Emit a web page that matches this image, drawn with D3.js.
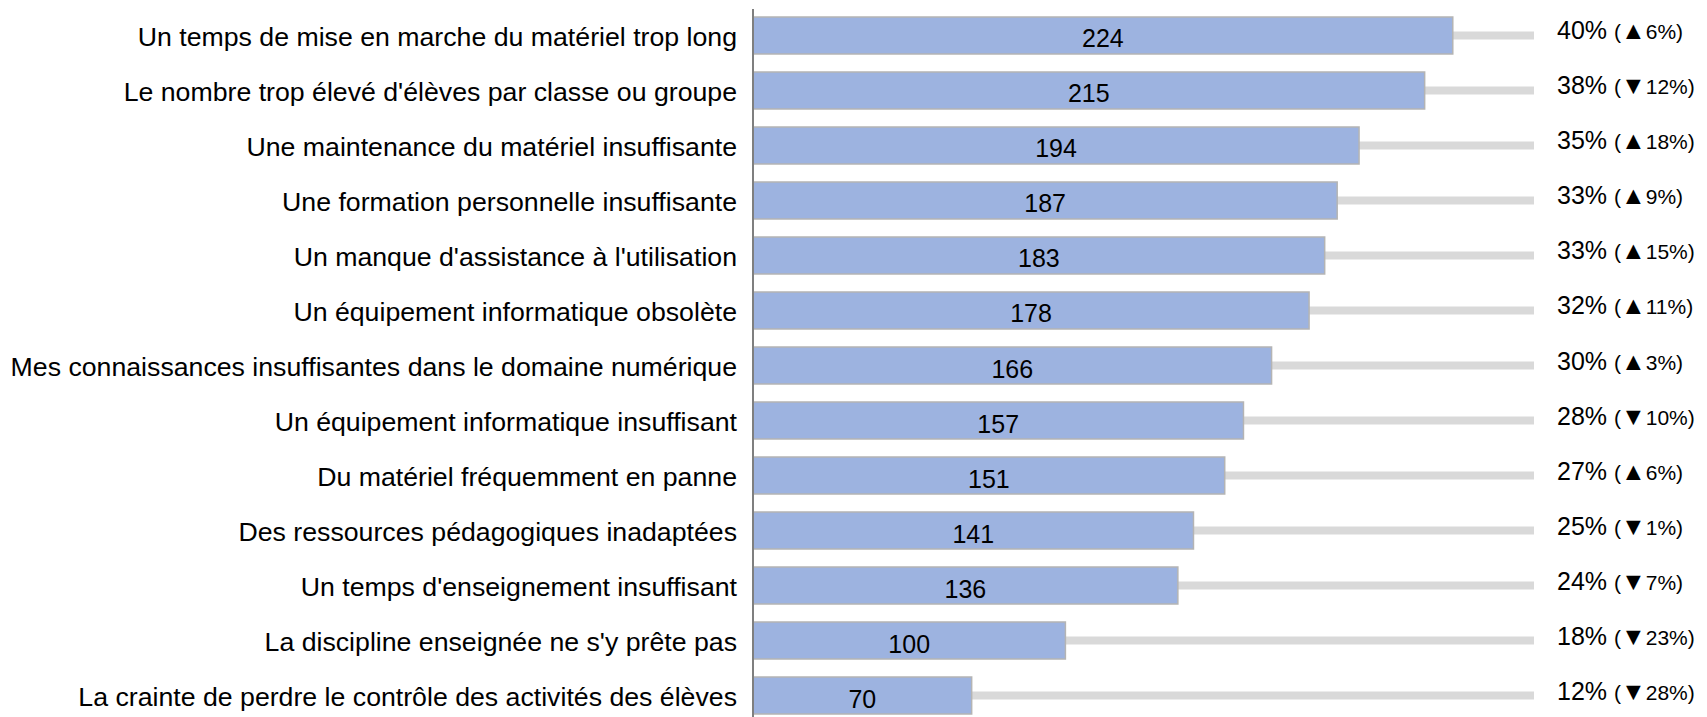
<!DOCTYPE html>
<html>
<head>
<meta charset="utf-8">
<script src="https://cdn.jsdelivr.net/npm/d3@7"></script>
<style>
  html, body { margin: 0; padding: 0; background: #fff; }
  svg { display: block; font-family: "Liberation Sans", Arial, sans-serif; }
</style>
</head>
<body>
<svg id="chart" width="1707" height="717"></svg>
<script>
const categories = [
  "Un temps de mise en marche du matériel trop long",
  "Le nombre trop élevé d'élèves par classe ou groupe",
  "Une maintenance du matériel insuffisante",
  "Une formation personnelle insuffisante",
  "Un manque d'assistance à l'utilisation",
  "Un équipement informatique obsolète",
  "Mes connaissances insuffisantes dans le domaine numérique",
  "Un équipement informatique insuffisant",
  "Du matériel fréquemment en panne",
  "Des ressources pédagogiques inadaptées",
  "Un temps d'enseignement insuffisant",
  "La discipline enseignée ne s'y prête pas",
  "La crainte de perdre le contrôle des activités des élèves"
];
const counts = [224, 215, 194, 187, 183, 178, 166, 157, 151, 141, 136, 100, 70];
const percents = ["40%", "38%", "35%", "33%", "33%", "32%", "30%", "28%", "27%", "25%", "24%", "18%", "12%"];
const trendArrows = ["▲", "▼", "▲", "▲", "▲", "▲", "▲", "▼", "▲", "▼", "▼", "▼", "▼"];
const trendValues = ["6%", "12%", "18%", "9%", "15%", "11%", "3%", "10%", "6%", "1%", "7%", "23%", "28%"];
const maxValue = 250;

const svg = d3.select("#chart");

const x = d3.scaleLinear().domain([0, maxValue]).range([753, 1534]);
const y = d3.scaleBand().domain(categories).range([8, 723])
  .paddingInner(0.3273).paddingOuter(0.1636);

const rows = categories.map((c, i) => ({
  cat: c, v: counts[i], p: percents[i], a: trendArrows[i], t: trendValues[i]
}));

// grey background track
svg.append("g").selectAll("rect").data(rows).join("rect")
  .attr("x", x(0))
  .attr("y", d => y(d.cat) + y.bandwidth() / 2 - 4)
  .attr("width", x(maxValue) - x(0))
  .attr("height", 8)
  .attr("fill", "#d9d9d9");

// bars
svg.append("g").selectAll("rect").data(rows).join("rect")
  .attr("x", x(0))
  .attr("y", d => y(d.cat))
  .attr("width", d => x(d.v) - x(0))
  .attr("height", y.bandwidth())
  .attr("fill", "#9db3e0")
  .attr("stroke", "#b4b4b4")
  .attr("stroke-width", 1.5);

// category axis line
svg.append("line")
  .attr("x1", x(0)).attr("x2", x(0))
  .attr("y1", 9).attr("y2", 717)
  .attr("stroke", "#7f7f7f").attr("stroke-width", 2);

// category labels
svg.append("g").selectAll("text").data(rows).join("text")
  .attr("x", 737)
  .attr("y", d => y(d.cat) + y.bandwidth() / 2 + 10.5)
  .attr("text-anchor", "end")
  .attr("font-size", 26.7)
  .attr("fill", "#000")
  .text(d => d.cat);

// value labels
svg.append("g").selectAll("text").data(rows).join("text")
  .attr("x", d => (x(0) + x(d.v)) / 2)
  .attr("y", d => y(d.cat) + y.bandwidth() / 2 + 12)
  .attr("text-anchor", "middle")
  .attr("font-size", 25)
  .attr("fill", "#000")
  .text(d => d.v);

// percent labels
const pct = svg.append("g").selectAll("text").data(rows).join("text")
  .attr("x", 1557)
  .attr("y", d => y(d.cat) + y.bandwidth() / 2 + 4)
  .attr("fill", "#000");
pct.append("tspan").attr("font-size", 25).text(d => d.p + " ");
pct.append("tspan").attr("font-size", 21).text("(");
pct.append("tspan").attr("font-size", 25).text(d => d.a);
pct.append("tspan").attr("font-size", 21).text(d => d.t + ")");
</script>
</body>
</html>
